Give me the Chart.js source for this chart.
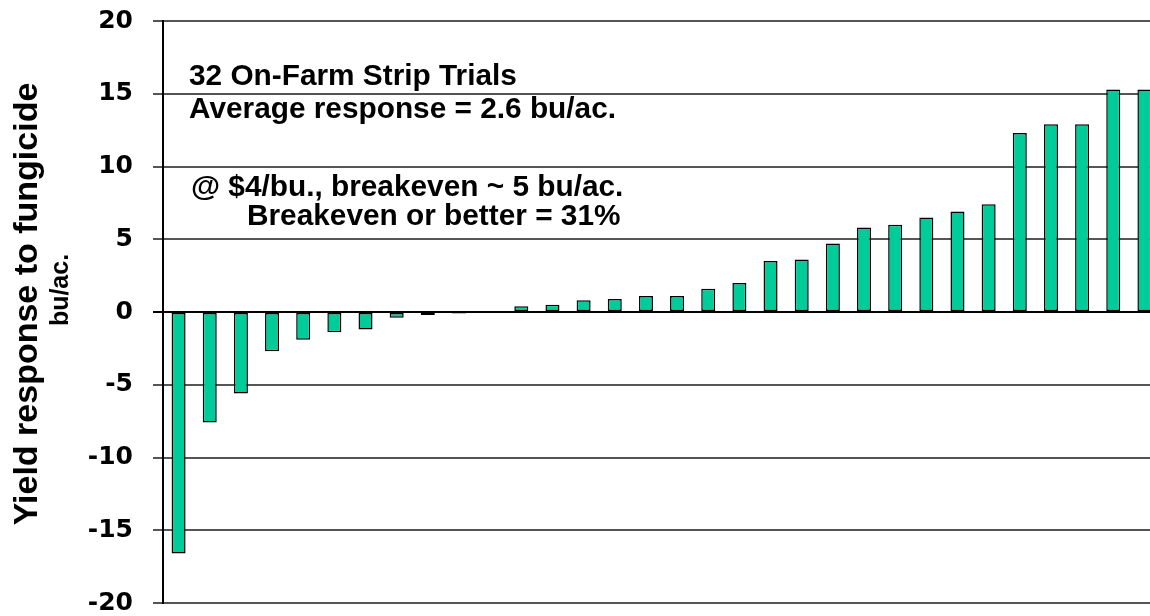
<!DOCTYPE html>
<html>
<head>
<meta charset="utf-8">
<script src="https://cdn.jsdelivr.net/npm/chart.js@4"></script>
<style>
  html, body { margin: 0; padding: 0; background: #fff; overflow: hidden; }
  #wrap { width: 1150px; height: 616px; overflow: hidden; }
</style>
</head>
<body>
<div id="wrap"><canvas id="chart" width="1162" height="616"></canvas></div>
<script>
// ================================
// DATA
// ================================
var trials = ["1","2","3","4","5","6","7","8","9","10","11","12","13","14","15","16",
              "17","18","19","20","21","22","23","24","25","26","27","28","29","30","31","32"];
var response = [-16.6, -7.6, -5.6, -2.7, -1.9, -1.4, -1.2, -0.4, -0.2, -0.1, 0,
                0.4, 0.5, 0.8, 0.9, 1.1, 1.1, 1.6, 2.0, 3.5, 3.6, 4.7,
                5.8, 6.0, 6.5, 6.9, 7.4, 12.3, 12.9, 12.9, 15.3, 15.3];
var yTicks = [-20, -15, -10, -5, 0, 5, 10, 15, 20];
var notes = ["32 On-Farm Strip Trials",
             "Average response = 2.6 bu/ac.",
             "@ $4/bu., breakeven ~ 5 bu/ac.",
             "Breakeven or better = 31%"];
var yTitle = ["Yield response to fungicide", "bu/ac."];

// ================================
// TEXT DRAWN ON TOP
// ================================
var textPlugin = {
  id: "textPlugin",
  afterDraw: function(chart) {
    var ctx = chart.ctx;
    ctx.save();
    ctx.fillStyle = "#000";
    ctx.textBaseline = "alphabetic";
    ctx.textAlign = "left";
    ctx.font = "bold 29.8px 'Liberation Sans', Arial, sans-serif";
    ctx.fillText(notes[0], 189, 85);
    ctx.fillText(notes[1], 189, 118);
    ctx.fillText(notes[2], 191, 196);
    ctx.fillText(notes[3], 247, 225);

    // y axis title, rotated
    ctx.textAlign = "center";
    ctx.textBaseline = "middle";
    ctx.save();
    ctx.translate(28, 304);
    ctx.rotate(-Math.PI / 2);
    ctx.font = "bold 34px 'Liberation Sans', Arial, sans-serif";
    ctx.fillText(yTitle[0], 0, 0);
    ctx.restore();
    ctx.save();
    ctx.translate(61, 290);
    ctx.rotate(-Math.PI / 2);
    ctx.font = "bold 25px 'Liberation Sans', Arial, sans-serif";
    ctx.fillText(yTitle[1], 0, 0);
    ctx.restore();
    ctx.restore();
  }
};

var ctx = document.getElementById("chart").getContext("2d");

var myChart = new Chart(ctx, {
  type: "bar",
  data: {
    labels: trials,
    datasets: [{
      data: response,
      backgroundColor: "#00CC99",
      borderColor: "#000",
      borderWidth: 1.5,
      borderSkipped: false,
      barPercentage: 0.45,
      categoryPercentage: 1.0
    }]
  },
  options: {
    responsive: false,
    animation: false,
    devicePixelRatio: 1,
    layout: { padding: { left: 0, top: 21, bottom: 13, right: 2 } },
    plugins: {
      legend: { display: false },
      tooltip: { enabled: false }
    },
    scales: {
      x: { display: false },
      y: {
        min: -20,
        max: 20,
        afterFit: function(scale) {
          scale.width = 163;
          scale.paddingTop = 0;
          scale.paddingBottom = 0;
        },
        afterBuildTicks: function(scale) {
          scale.ticks = yTicks.map(function(v) { return { value: v }; });
        },
        ticks: {
          padding: 20,
          color: "#000",
          font: { family: "'DejaVu Sans'", size: 25, weight: "bold", lineHeight: 1 }
        },
        grid: {
          drawTicks: true,
          tickLength: 10,
          lineWidth: 2,
          color: function(c) {
            return c.tick && c.tick.value === 0 ? "#000" : "#555";
          }
        },
        border: { display: true, color: "#000", width: 2 }
      }
    }
  },
  plugins: [textPlugin]
});
</script>
</body>
</html>
